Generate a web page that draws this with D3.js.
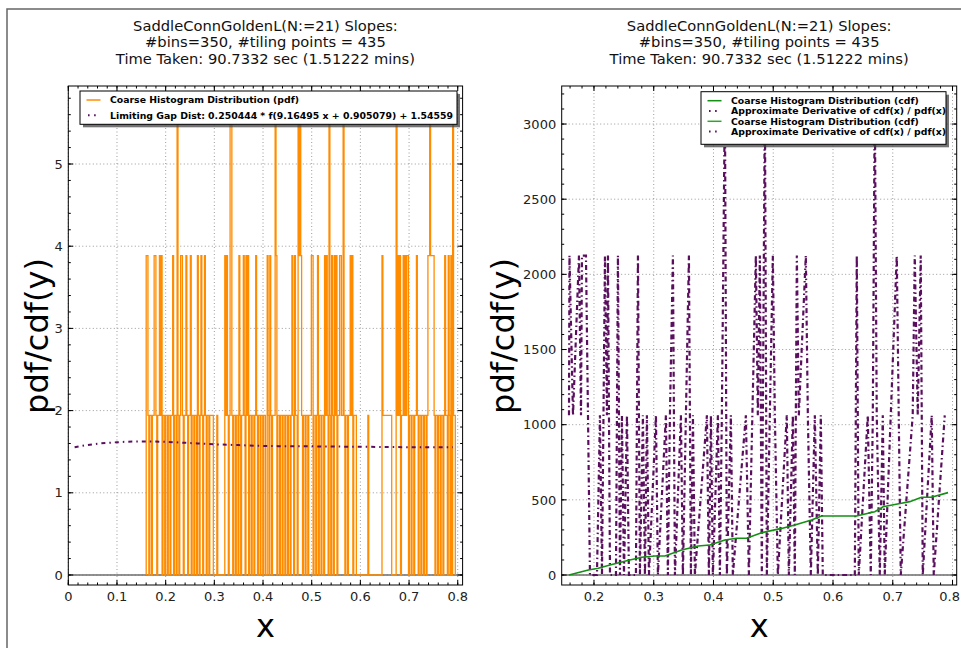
<!DOCTYPE html>
<html><head><meta charset="utf-8">
<script src="https://cdn.jsdelivr.net/npm/d3@7"></script>
<style>body{margin:0;background:#fff}svg text{font-family:"DejaVu Sans",sans-serif}</style>
</head><body><svg id="c" width="961" height="648"></svg>
<script>
// ---------------- data ----------------
const titleLines = ["SaddleConnGoldenL(N:=21) Slopes:", "#bins=350, #tiling points = 435", "Time Taken: 90.7332 sec (1.51222 mins)"];
const pdfRange = [0.16, 0.795];          // histogram range, 350 bins
const pdfUnit = 1.943;                   // density of one count
const pdfCounts = [
2,2,1,0,1,1,0,1,1,2, 2,1,0,1,1,2,1,2,0,1, 1,0,1,1,0,1,1,0,1,1, 2,0,1,1,0,3,1,0,1,2,
2,1,0,1,1,2,1,0,1,1, 2,0,1,1,0,1,1,0,2,1, 0,1,2,1,0,1,2,1,0,1, 1,0,1,1,1,1,0,0,0,0,
1,0,0,0,0,0,0,0,0,2, 1,2,1,0,1,3,3,1,0,1, 1,0,1,1,0,2,1,0,1,1, 2,1,0,2,1,2,0,1,1,0,
1,1,0,1,2,1,0,1,1,0, 1,1,0,1,1,0,0,2,1,0, 2,1,0,1,1,1,3,2,0,1, 1,0,1,1,0,1,1,0,1,1,
0,1,1,0,1,2,1,0,2,1, 1,0,3,2,3,2,1,0,1,1, 0,1,1,0,1,1,1,2,2,0, 1,1,0,1,2,0,1,1,0,1,
1,0,2,1,2,1,0,3,1,0, 2,1,0,2,1,2,0,1,1,2, 2,1,1,3,1,0,1,1,0,1, 1,2,1,2,0,1,1,1,0,0,
0,0,0,0,0,0,0,0,0,0, 0,1,0,0,0,0,0,0,0,0, 0,0,0,0,0,0,0,2,1,1, 1,1,1,1,1,1,1,1,0,0,
0,0,0,3,1,2,1,2,0,1, 1,2,1,2,1,2,2,0,1,1, 0,1,1,0,1,1,2,1,0,1, 1,0,1,1,0,1,1,0,1,2,
2,3,2,2,2,2,1,0,1,1, 0,1,1,0,1,1,0,1,2,1, 1,0,2,1,0,2,0,3,1,1];
const gapX = [0.013,0.05,0.1,0.15,0.2,0.25,0.3,0.35,0.4,0.5,0.6,0.7,0.79];
const gapY = [1.555,1.59,1.615,1.625,1.62,1.605,1.59,1.58,1.57,1.565,1.56,1.555,1.553];
const cdfX = [0.1582,0.1905,0.2072,0.2268,0.2547,0.2798,0.3020,0.3187,0.3467,0.3744,0.3940,0.4191,0.4386,0.4554,
              0.4804,0.5139,0.5361,0.5640,0.5808,0.5975,0.6393,0.6699,0.6838,0.7145,0.7284,0.7480,0.7647,0.7925];
const cdfY = [0,33,45,67,95,118,126,126,166,193,200,233,244,244,281,310,333,366,393,393,393,421,454,477,488,517,517,548];
const derivX = [0.1582,0.1590,0.1649,0.1749,0.1783,0.1799,0.1866,0.1900,0.1933,0.2050,
0.2100,0.2134,0.2184,0.2217,0.2234,0.2268,0.2368,0.2401,0.2435,0.2468,
0.2502,0.2552,0.2585,0.2702,0.2736,0.2769,0.2819,0.2853,0.2886,0.2920,
0.3037,0.3070,0.3204,0.3237,0.3271,0.3321,0.3355,0.3455,0.3488,0.3589,
0.3622,0.3656,0.3689,0.3890,0.3923,0.3957,0.3990,0.4074,0.4107,0.4140,
0.4191,0.4224,0.4291,0.4324,0.4542,0.4592,0.4709,0.4742,0.4776,0.4809,
0.4860,0.4893,0.4993,0.5027,0.5077,0.5227,0.5261,0.5328,0.5361,0.5395,
0.5428,0.5545,0.5579,0.5629,0.5696,0.5746,0.5796,0.5829,0.6365,0.6398,
0.6431,0.6582,0.6632,0.6666,0.6699,0.6732,0.6783,0.6833,0.6866,0.7067,
0.7100,0.7134,0.7334,0.7368,0.7418,0.7468,0.7502,0.7652,0.7686,0.7870];
const derivY = [1062,2125,1062,2125,1062,2125,2125,1062,0,0,
1062,0,2125,1062,2125,0,0,2125,0,1062,
0,1062,0,0,2125,0,1062,0,1062,0,
1062,0,1062,0,1062,2125,0,1062,0,2125,
0,1062,0,1062,0,1062,0,1062,0,1062,
3190,0,1062,0,1062,0,2125,1062,2125,0,
3190,0,2125,1062,0,1062,0,1062,0,2125,
1062,2125,1062,0,1062,0,1062,0,0,2125,
0,1062,0,1062,3190,1062,0,1062,0,2125,
1062,0,1062,2125,1062,2125,0,1062,0,1062];
const leftXTicks = [0,0.1,0.2,0.3,0.4,0.5,0.6,0.7,0.8];
const leftYTicks = [0,1,2,3,4,5];
const rightXTicks = [0.2,0.3,0.4,0.5,0.6,0.7,0.8];
const rightYTicks = [0,500,1000,1500,2000,2500,3000];
const leftLegend = ["Coarse Histogram Distribution (pdf)", "Limiting Gap Dist: 0.250444 * f(9.16495 x + 0.905079) + 1.54559"];
const rightLegend = ["Coarse Histogram Distribution (cdf)", "Approximate Derivative of cdf(x) / pdf(x)", "Coarse Histogram Distribution (cdf)", "Approximate Derivative of cdf(x) / pdf(x)"];

// ---------------- styles ----------------
const ORANGE = "#ff8c00", PURPLE = "#5a0f5e", GREEN = "#138f13", GREEN2 = "#2fa52f";
const DASHDOT = "4,4,1.5,4";
const svg = d3.select("#c");

svg.append("path").attr("d","M7,648 L7,9 L961,9").attr("fill","none").attr("stroke","#666").attr("stroke-width",1.5);

function fmt(v){ return (Math.round(v*10)/10).toString(); }

function panel(cfg){
  const g = svg.append("g");
  const x = d3.scaleLinear().domain(cfg.xd).range([cfg.x0,cfg.x1]);
  const y = d3.scaleLinear().domain(cfg.yd).range([cfg.y1,cfg.y0]);
  const id = "clip"+cfg.name;
  svg.append("defs").append("clipPath").attr("id",id).append("rect")
     .attr("x",cfg.x0).attr("y",cfg.y0).attr("width",cfg.x1-cfg.x0).attr("height",cfg.y1-cfg.y0);
  // grid
  const grid = g.append("g").attr("stroke","#808080").attr("stroke-width",0.8).attr("stroke-dasharray","1,2.5");
  cfg.xTicks.forEach(t=>grid.append("line").attr("x1",x(t)).attr("x2",x(t)).attr("y1",cfg.y0).attr("y2",cfg.y1));
  cfg.yTicks.forEach(t=>grid.append("line").attr("y1",y(t)).attr("y2",y(t)).attr("x1",cfg.x0).attr("x2",cfg.x1));
  // zero line
  g.append("line").attr("x1",cfg.x0).attr("x2",cfg.x1).attr("y1",y(0)).attr("y2",y(0))
   .attr("stroke","#6e6e6e").attr("stroke-width",1.5);
  const data = g.append("g").attr("clip-path",`url(#${id})`);
  cfg.draw(data,x,y);
  // frame
  g.append("rect").attr("x",cfg.x0).attr("y",cfg.y0).attr("width",cfg.x1-cfg.x0).attr("height",cfg.y1-cfg.y0)
   .attr("fill","none").attr("stroke","#000").attr("stroke-width",1);
  // ticks
  const tk = g.append("g").attr("stroke","#000").attr("stroke-width",1);
  const minorX = d3.range(cfg.xMinor[0], cfg.xMinor[1]+1e-9, cfg.xMinor[2]);
  const minorY = d3.range(cfg.yMinor[0], cfg.yMinor[1]+1e-9, cfg.yMinor[2]);
  minorX.forEach(t=>{ const px=x(t); if(px<cfg.x0-0.1||px>cfg.x1+0.1) return;
    tk.append("line").attr("x1",px).attr("x2",px).attr("y1",cfg.y1).attr("y2",cfg.y1-2.5);
    tk.append("line").attr("x1",px).attr("x2",px).attr("y1",cfg.y0).attr("y2",cfg.y0+2.5); });
  minorY.forEach(t=>{ const py=y(t); if(py<cfg.y0-0.1||py>cfg.y1+0.1) return;
    tk.append("line").attr("y1",py).attr("y2",py).attr("x1",cfg.x0).attr("x2",cfg.x0+2.5);
    tk.append("line").attr("y1",py).attr("y2",py).attr("x1",cfg.x1).attr("x2",cfg.x1-2.5); });
  cfg.xTicks.forEach(t=>{ const px=x(t);
    tk.append("line").attr("x1",px).attr("x2",px).attr("y1",cfg.y1).attr("y2",cfg.y1-5);
    tk.append("line").attr("x1",px).attr("x2",px).attr("y1",cfg.y0).attr("y2",cfg.y0+5);
    const over = px + 11 > 960;
    g.append("text").attr("x",over?960:px).attr("y",cfg.y1+16).attr("text-anchor",over?"end":"middle")
      .attr("font-size",13).attr("fill","#222").text(cfg.xFmt(t)); });
  cfg.yTicks.forEach(t=>{ const py=y(t);
    tk.append("line").attr("y1",py).attr("y2",py).attr("x1",cfg.x0).attr("x2",cfg.x0+5);
    tk.append("line").attr("y1",py).attr("y2",py).attr("x1",cfg.x1).attr("x2",cfg.x1-5);
    g.append("text").attr("x",cfg.x0-5.5).attr("y",py+4.7).attr("text-anchor","end").attr("font-size",13).attr("fill","#222").text(cfg.yFmt(t)); });
  // title
  const cx = (cfg.x0+cfg.x1)/2;
  titleLines.forEach((s,i)=> g.append("text").attr("x",cx).attr("y",30.5+i*16.7).attr("text-anchor","middle")
     .attr("font-size",14.7).attr("fill","#111").text(s));
  // axis labels
  g.append("text").attr("x",cx).attr("y",637).attr("text-anchor","middle").attr("font-size",32).attr("fill","#000").text("x");
  g.append("text").attr("transform",`translate(${cfg.ylabX},336) rotate(-90)`).attr("text-anchor","middle")
   .attr("font-size",32).attr("fill","#000").text("pdf/cdf(y)");
  // legend
  const L = cfg.legend;
  const lg = g.append("g");
  lg.append("rect").attr("x",L.x+3).attr("y",L.y+3).attr("width",L.w).attr("height",L.h).attr("fill","#444").attr("opacity",0.75);
  lg.append("rect").attr("x",L.x).attr("y",L.y).attr("width",L.w).attr("height",L.h).attr("fill","#fff").attr("stroke","#000").attr("stroke-width",1);
  L.items.forEach((it,i)=>{
    const yy = L.rows[i];
    const ln = lg.append("line").attr("x1",L.x+6.5).attr("x2",L.x+20.5).attr("y1",yy).attr("y2",yy)
      .attr("stroke",it.color).attr("stroke-width",it.dash?2:1.5);
    if(it.dash) ln.attr("stroke-dasharray","1.6,4.5,1.6,20").attr("x1",L.x+8);
    lg.append("text").attr("x",L.x+30).attr("y",yy+3.4).attr("font-size",9.3).attr("font-weight","bold")
      .attr("fill","#000").attr("textLength",it.len).attr("lengthAdjust","spacingAndGlyphs").text(it.label);
  });
  return {x,y};
}

// ----- left panel -----
panel({
  name:"L", x0:68.3, x1:462.6, y0:86, y1:585, xd:[0,0.81], yd:[-0.1217,5.949],
  xTicks:leftXTicks, yTicks:leftYTicks, xMinor:[0,0.81,0.02], yMinor:[0,5.9,0.2],
  xFmt:fmt, yFmt:d=>String(d), ylabX:48,
  legend:{x:80,y:91,w:377,h:33.3,rows:[100,115.3],items:[
    {label:leftLegend[0],color:ORANGE,len:189},
    {label:leftLegend[1],color:PURPLE,dash:true,len:343}]},
  draw:(g,x,y)=>{
    const n = pdfCounts.length, w = (pdfRange[1]-pdfRange[0])/n;
    const pts = [[pdfRange[0],0]];
    pdfCounts.forEach((c,i)=>{ const e=pdfRange[0]+i*w; pts.push([e,c*pdfUnit]); pts.push([e+w,c*pdfUnit]); });
    pts.push([pdfRange[1],0]);
    g.append("path").attr("d",d3.line().x(d=>x(d[0])).y(d=>y(d[1]))(pts))
      .attr("fill","none").attr("stroke",ORANGE).attr("stroke-width",1.3);
    g.append("path").attr("d",d3.line().x((d,i)=>x(gapX[i])).y((d,i)=>y(gapY[i])).curve(d3.curveMonotoneX)(gapX))
      .attr("fill","none").attr("stroke",PURPLE).attr("stroke-width",2).attr("stroke-dasharray",DASHDOT);
  }
});

// ----- right panel -----
panel({
  name:"R", x0:561.7, x1:956.7, y0:86, y1:585, xd:[0.146,0.807], yd:[-66.5,3253],
  xTicks:rightXTicks, yTicks:rightYTicks, xMinor:[0.16,0.8,0.02], yMinor:[0,3200,100],
  xFmt:fmt, yFmt:d=>String(d), ylabX:514,
  legend:{x:701,y:91.7,w:245,h:52.6,rows:[100.7,111,121.3,131.6],items:[
    {label:rightLegend[0],color:GREEN,len:187.7},
    {label:rightLegend[1],color:PURPLE,dash:true,len:215},
    {label:rightLegend[2],color:GREEN2,len:187.7},
    {label:rightLegend[3],color:PURPLE,dash:true,len:215}]},
  draw:(g,x,y)=>{
    g.append("path").attr("d",d3.line().x((d,i)=>x(derivX[i])).y((d,i)=>y(derivY[i]))(derivX))
      .attr("fill","none").attr("stroke",PURPLE).attr("stroke-width",2.2).attr("stroke-dasharray","5,3,1.5,3");
    g.append("path").attr("d",d3.line().x((d,i)=>x(cdfX[i])).y((d,i)=>y(cdfY[i]))(cdfX))
      .attr("fill","none").attr("stroke",GREEN).attr("stroke-width",1.6);
  }
});
</script></body></html>
